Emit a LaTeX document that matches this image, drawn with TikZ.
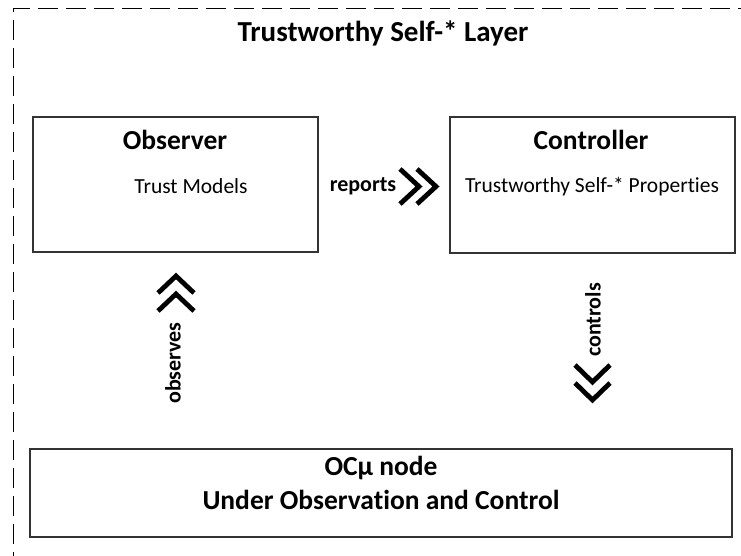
\documentclass[tikz,border=0pt]{standalone}
\usepackage{fontspec}
\setmainfont{Carlito}[Ligatures={NoCommon}]
\begin{document}
\begin{tikzpicture}[x=1pt,y=-1pt,
  box/.style={draw=black!80,line width=1.3pt},
  chev/.style={line width=4.8pt,miter limit=10,line join=miter,line cap=butt},
  boxtitle/.style={font=\fontsize{27.5}{32}\selectfont\bfseries},
  boxtext/.style={font=\fontsize{21.5}{25}\selectfont},
  lbl/.style={font=\fontsize{22}{26}\selectfont\bfseries}]
\useasboundingbox (0,0) rectangle (741,556);

% outer dashed layer frame (runs off the right and bottom)
\draw[line width=1pt,dash pattern=on 20pt off 8pt] (13,600) -- (13,9) -- (760,9);
\node[font=\fontsize{29}{34}\selectfont\bfseries] (layer) at (383,33) {Trustworthy Self-* Layer};

% component boxes
\draw[box] (33,117) rectangle (318,252);
\node[boxtitle] (obs) at (175,140) {Observer};
\node[boxtext] (obstxt) at (191,186) {Trust Models};

\draw[box] (450,117) rectangle (735,253);
\node[boxtitle] (ctl) at (591,140) {Controller};
\node[boxtext] (ctltxt) at (592,187) {Trustworthy Self-* Properties};

\draw[box] (30,449) rectangle (732,537);
\node[boxtitle] (ocu) at (381,468) {OCμ node};
\node[boxtitle] (uoc) at (381,500) {Under Observation and Control};

% reports
\node[lbl] (rep) at (363,186) {reports};
\draw[chev] (400,169) -- (419,186.5) -- (400,204);
\draw[chev] (417,169) -- (436,186.5) -- (417,204);

% observes
\node[lbl,rotate=90] (obsv) at (173,363) {observes};
\draw[chev] (158,293) -- (176,276) -- (194,293);
\draw[chev] (158,311) -- (176,294) -- (194,311);

% controls
\node[lbl,rotate=90] (ctrl) at (593,320) {controls};
\draw[chev] (575,365) -- (592.5,382) -- (610,365);
\draw[chev] (575,383) -- (592.5,400) -- (610,383);
\end{tikzpicture}
\end{document}
